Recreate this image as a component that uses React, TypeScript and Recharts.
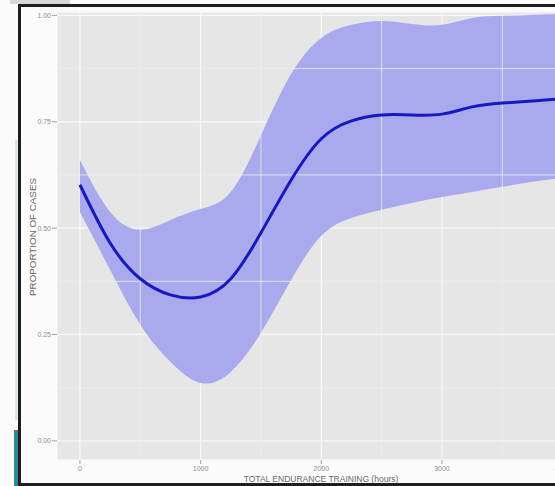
import {
  ComposedChart,
  Area,
  Line,
  XAxis,
  YAxis,
  CartesianGrid,
  ReferenceLine,
} from "recharts";

// smoothed proportion with its confidence band
const hours = [0, 250, 500, 750, 1000, 1250, 1500, 1750, 2000, 2250, 2500, 2750, 3000, 3250, 3500, 3750, 4000];
const fit = [0.602, 0.465, 0.381, 0.343, 0.338, 0.381, 0.489, 0.613, 0.71, 0.752, 0.766, 0.766, 0.768, 0.785, 0.794, 0.799, 0.804];
const lower = [0.538, 0.402, 0.273, 0.186, 0.136, 0.162, 0.254, 0.378, 0.482, 0.524, 0.543, 0.559, 0.573, 0.585, 0.597, 0.609, 0.618];
const upper = [0.66, 0.538, 0.496, 0.519, 0.545, 0.585, 0.718, 0.862, 0.947, 0.978, 0.987, 0.98, 0.978, 0.994, 0.999, 1.001, 1.003];

const xTicks = [0, 1000, 2000, 3000, 4000];
const yTicks = [0, 0.25, 0.5, 0.75, 1];
const xMinor = [500, 1500, 2500, 3500];
const yMinor = [0.125, 0.375, 0.625, 0.875];

const data = hours.map((h, i) => ({
  hours: h,
  fit: fit[i],
  band: [lower[i], upper[i]],
}));

const font = "'Liberation Sans', Arial, sans-serif";
const tickStyle = { fontSize: 7, fill: "#8e8e8e", fontFamily: font };

export default function App() {
  return (
    <div
      style={{
        position: "absolute",
        left: 0,
        top: 0,
        width: 555,
        height: 486,
        overflow: "hidden",
        background: "#fbfbfb",
      }}
    >
      {/* bits of the photo background outside the frame */}
      <div style={{ position: "absolute", left: 14, top: 430, width: 5, height: 56, background: "#2e8b94" }} />
      <div style={{ position: "absolute", left: 15, top: 140, width: 3, height: 280, background: "#dfe8e8" }} />
      <div style={{ position: "absolute", left: 10, top: 0, width: 60, height: 4, background: "#d8d8d8" }} />

      <div style={{ position: "absolute", left: 0, top: 0 }}>
        <ComposedChart
          width={640}
          height={486}
          data={data}
          margin={{ top: 12, right: 17, bottom: 6, left: 20 }}
        >
          <CartesianGrid fill="#e6e6e6" stroke="#f7f7f7" strokeWidth={1.3} />
          {xMinor.map((v) => (
            <ReferenceLine key={"x" + v} x={v} stroke="#efefef" strokeWidth={0.8} />
          ))}
          {yMinor.map((v) => (
            <ReferenceLine key={"y" + v} y={v} stroke="#efefef" strokeWidth={0.8} />
          ))}
          <XAxis
            type="number"
            dataKey="hours"
            domain={[-190, 4500]}
            ticks={xTicks}
            allowDataOverflow
            axisLine={false}
            tickLine={{ stroke: "#a0a0a0" }}
            tickSize={4}
            tickMargin={2}
            height={20}
            tick={tickStyle}
          />
          <YAxis
            type="number"
            domain={[-0.045, 1.008]}
            ticks={yTicks}
            allowDataOverflow
            axisLine={false}
            tickLine={{ stroke: "#a0a0a0" }}
            tickSize={5}
            tickMargin={1}
            width={37}
            tick={tickStyle}
            tickFormatter={(v: number) => v.toFixed(2)}
          />
          <Area
            type="natural"
            dataKey="band"
            stroke="none"
            fill="#a9a9ee"
            fillOpacity={1}
            isAnimationActive={false}
          />
          <Line
            type="natural"
            dataKey="fit"
            stroke="#1818c0"
            strokeWidth={3}
            dot={false}
            isAnimationActive={false}
          />
        </ComposedChart>
      </div>

      {/* axis titles */}
      <div
        style={{
          position: "absolute",
          left: 32,
          top: 237,
          transform: "translate(-50%, -50%) rotate(-90deg)",
          fontFamily: font,
          fontSize: 9.8,
          color: "#6a6a6a",
          whiteSpace: "nowrap",
        }}
      >
        PROPORTION OF CASES
      </div>
      <div
        style={{
          position: "absolute",
          left: 321,
          top: 479,
          transform: "translate(-50%, -50%)",
          fontFamily: font,
          fontSize: 8.5,
          color: "#6a6a6a",
          whiteSpace: "nowrap",
        }}
      >
        TOTAL ENDURANCE TRAINING (hours)
      </div>

      {/* the black frame of the photographed figure */}
      <div
        style={{
          position: "absolute",
          left: 18,
          top: 4,
          width: 620,
          height: 476,
          border: "3px solid #1e1e1e",
          boxSizing: "content-box",
          pointerEvents: "none",
        }}
      />
    </div>
  );
}
